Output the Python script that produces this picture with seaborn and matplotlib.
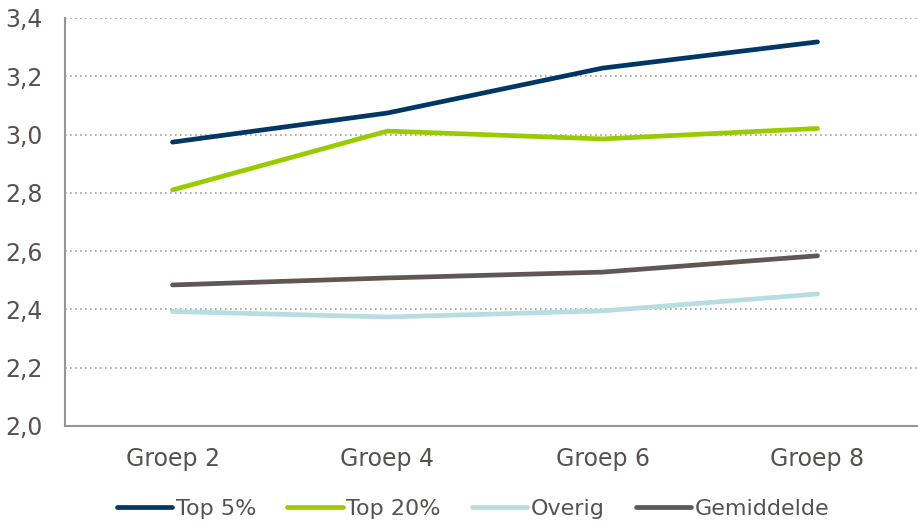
import matplotlib
matplotlib.use("Agg")
import matplotlib.pyplot as plt
import seaborn as sns
import pandas as pd
from matplotlib.ticker import FixedLocator, FuncFormatter

categories = ["Groep 2", "Groep 4", "Groep 6", "Groep 8"]
top5 = [2.974, 3.074, 3.228, 3.318]
top20 = [2.81, 3.012, 2.985, 3.021]
overig = [2.393, 2.374, 2.395, 2.453]
gemiddelde = [2.484, 2.508, 2.528, 2.584]
series_names = ["Top 5%", "Top 20%", "Overig", "Gemiddelde"]
colors = ["#003764", "#99CC00", "#B7DDE0", "#605654"]
y_ticks = [2.0, 2.2, 2.4, 2.6, 2.8, 3.0, 3.2, 3.4]

rows = []
for name, vals in zip(series_names, [top5, top20, overig, gemiddelde]):
    for i, v in enumerate(vals):
        rows.append({"pos": i, "cat": categories[i], "serie": name, "waarde": v})
df = pd.DataFrame(rows)

sns.set_style("white")
plt.rcParams["font.family"] = ["DejaVu Sans"]
text_color = "#595050"
axis_color = "#9a9595"

fig = plt.figure(figsize=(9.18, 5.22), dpi=100)
ax = fig.add_axes([65 / 918, 96 / 522, 860 / 918, 408 / 522])

sns.lineplot(data=df, x="pos", y="waarde", hue="serie", hue_order=series_names,
             palette=colors, linewidth=3.4, ax=ax, legend=True, sort=False)
for ln in ax.lines:
    ln.set_solid_capstyle("round")

ax.set_xlim(-0.5, 3.5)
ax.set_ylim(2.0, 3.4)
ax.set_yticks(y_ticks)
ax.yaxis.set_major_formatter(FuncFormatter(lambda v, p: f"{v:.1f}".replace(".", ",")))
ax.set_xticks(range(len(categories)))
ax.set_xticklabels(categories)
ax.xaxis.set_minor_locator(FixedLocator([-0.5, 0.5, 1.5, 2.5, 3.5]))
ax.tick_params(axis="x", which="major", length=0, pad=15, labelsize=17, labelcolor=text_color)
ax.tick_params(axis="x", which="minor", length=6, width=1.3, color=axis_color, direction="out")
ax.tick_params(axis="y", which="major", length=6, width=1.3, color=axis_color, direction="out",
               labelsize=17, labelcolor=text_color, pad=10)
ax.set_xlabel("")
ax.set_ylabel("")

ax.yaxis.grid(True, linestyle=(0, (1, 2)), color="#a0a0a0", linewidth=1.2)
ax.set_axisbelow(True)
for side in ["top", "right"]:
    ax.spines[side].set_visible(False)
for side in ["left", "bottom"]:
    ax.spines[side].set_color(axis_color)
    ax.spines[side].set_linewidth(1.5)

handles, labels = ax.get_legend_handles_labels()
for h in handles:
    h.set_linewidth(3.4)
    h.set_solid_capstyle("round")
ax.legend(handles, labels, loc="center", bbox_to_anchor=(473 / 918, 13 / 522),
          bbox_transform=fig.transFigure, ncol=4, frameon=False, fontsize=16,
          handlelength=2.5, handletextpad=0.15, columnspacing=1.4, labelcolor=text_color)

fig.savefig("out.png", dpi=100)
